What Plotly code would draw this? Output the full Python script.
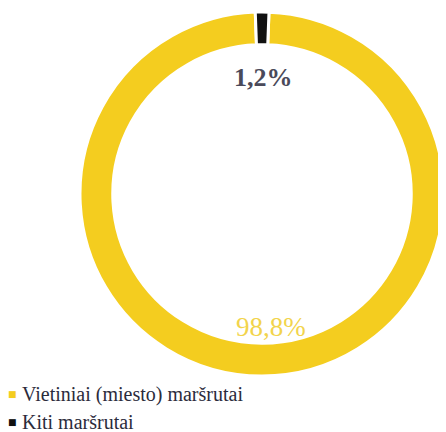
import plotly.graph_objects as go

labels = ["Vietiniai (miesto) maršrutai", "Kiti maršrutai"]
values = [98.8, 1.2]
value_texts = ["98,8%", "1,2%"]
colors = ["#F4CD1F", "#111111"]

W, H = 446, 432
OFF = 8  # page body margin

def px(x):
    return (x - OFF) / W

def py(y):
    return 1 - (y - OFF) / H

fig = go.Figure(go.Pie(
    labels=labels,
    values=values,
    hole=0.82,
    sort=False,
    direction="clockwise",
    rotation=2.2,
    textinfo="none",
    hoverinfo="label+percent",
    marker=dict(colors=colors, line=dict(color="white", width=3)),
    domain=dict(x=[px(80), px(444)], y=[py(376), py(12)]),
    showlegend=False,
))

annotations = [
    dict(x=px(263), y=py(78), text="<b>" + value_texts[1] + "</b>",
         font=dict(family="Liberation Serif", size=26, color="#4a4a5a")),
    dict(x=px(271), y=py(327), text=value_texts[0],
         font=dict(family="Liberation Serif", size=27, color="#F2D44C")),
]
legend_y = [394, 422]
for i, lab in enumerate(labels):
    annotations.append(dict(x=px(6), y=py(legend_y[i]), text="■", xanchor="left",
                            font=dict(family="DejaVu Sans", size=9, color=colors[i])))
    annotations.append(dict(x=px(20), y=py(legend_y[i]), text=lab, xanchor="left",
                            font=dict(family="Liberation Serif", size=20, color="#2b2b3b")))
for a in annotations:
    a.update(xref="paper", yref="paper", showarrow=False, yanchor="middle")
    a.setdefault("xanchor", "center")

fig.update_layout(
    width=W, height=H,
    margin=dict(l=0, r=0, t=0, b=0),
    paper_bgcolor="white",
    plot_bgcolor="white",
    annotations=annotations,
)

fig.write_html("out.html")
